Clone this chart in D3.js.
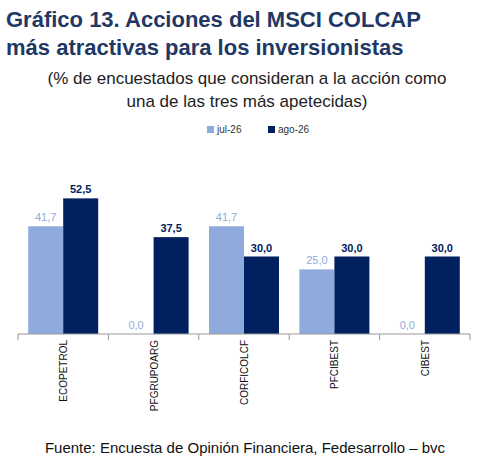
<!DOCTYPE html>
<html><head><meta charset="utf-8">
<script src="https://cdn.jsdelivr.net/npm/d3@7"></script>
<style>body{margin:0;background:#fff;font-family:Arial,"Liberation Sans",sans-serif}</style>
</head><body>
<script>
var categories = ["ECOPETROL", "PFGRUPOARG", "CORFICOLCF", "PFCIBEST", "CIBEST"];
var seriesNames = ["jul-26", "ago-26"];
var jul26 = [41.7, 0.0, 41.7, 25.0, 0.0];
var ago26 = [52.5, 37.5, 30.0, 30.0, 30.0];
var colors = ["#8faadc", "#002060"];
var labelColors = ["#8faadc", "#002060"];

let svg = d3.select("body").append("svg").attr("width", 482).attr("height", 461);

// title
svg.append("text").attr("x", 6).attr("y", 27).attr("font-size", 22).attr("font-weight", "bold")
    .attr("fill", "#1f3864").text("Gráfico 13. Acciones del MSCI COLCAP");
svg.append("text").attr("x", 6).attr("y", 55).attr("font-size", 22).attr("font-weight", "bold")
    .attr("fill", "#1f3864").text("más atractivas para los inversionistas");
svg.append("text").attr("x", 247).attr("y", 84).attr("text-anchor", "middle").attr("font-size", 17)
    .attr("fill", "#222").text("(% de encuestados que consideran a la acción como");
svg.append("text").attr("x", 247).attr("y", 107).attr("text-anchor", "middle").attr("font-size", 17)
    .attr("fill", "#222").text("una de las tres más apetecidas)");

// legend
var legX = [207, 268];
seriesNames.forEach(function (s, i) {
    svg.append("rect").attr("x", legX[i]).attr("y", 126).attr("width", 7).attr("height", 7).attr("fill", colors[i]);
    svg.append("text").attr("x", legX[i] + 10).attr("y", 133).attr("font-size", 10).attr("fill", "#333").text(s);
});

var x = d3.scaleBand().domain(categories).range([18, 470]);
var y = d3.scaleLinear().domain([0, 60]).range([334, 179]);
var barW = 35;

var series = [jul26, ago26];
series.forEach(function (vals, si) {
    var g = svg.append("g");
    g.selectAll("rect").data(vals).enter().append("rect")
        .attr("x", (d, i) => x(categories[i]) + x.bandwidth() / 2 - barW + si * barW)
        .attr("y", d => y(d))
        .attr("width", barW)
        .attr("height", d => y(0) - y(d))
        .attr("fill", colors[si]);
    g.selectAll("text").data(vals).enter().append("text")
        .attr("x", (d, i) => x(categories[i]) + x.bandwidth() / 2 - barW / 2 + si * barW)
        .attr("y", d => y(d) - 5)
        .attr("text-anchor", "middle")
        .attr("font-size", 11)
        .attr("font-weight", si == 1 ? "bold" : "normal")
        .attr("fill", labelColors[si])
        .text(d => d.toFixed(1).replace(".", ","));
});

// axis
var ax = svg.append("g");
ax.append("line").attr("x1", 18).attr("x2", 470).attr("y1", y(0)).attr("y2", y(0)).attr("stroke", "#999");
categories.concat(["_end"]).forEach(function (c, i) {
    var xx = i < categories.length ? x(c) : 470;
    ax.append("line").attr("x1", xx).attr("x2", xx).attr("y1", y(0)).attr("y2", y(0) + 6).attr("stroke", "#999");
});
categories.forEach(function (c) {
    var cx = x(c) + x.bandwidth() / 2 + 4;
    ax.append("text").attr("transform", "translate(" + cx + ",340) rotate(-90)")
        .attr("text-anchor", "end").attr("font-size", 10).attr("fill", "#111").text(c);
});

svg.append("text").attr("x", 245).attr("y", 453).attr("text-anchor", "middle").attr("font-size", 15)
    .attr("fill", "#111").text("Fuente: Encuesta de Opinión Financiera, Fedesarrollo – bvc");
</script>
</body></html>
